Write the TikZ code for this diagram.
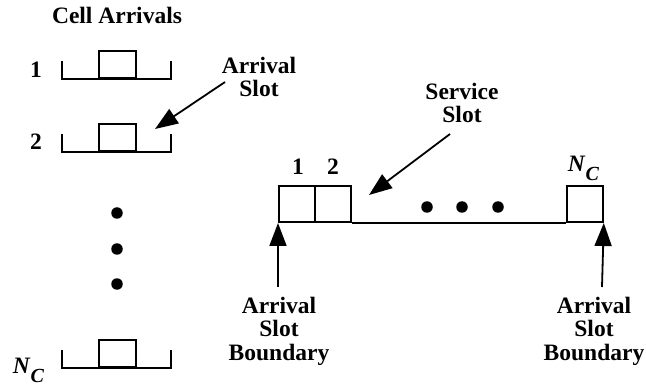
\documentclass[tikz,border=0pt]{standalone}
\usepackage{fontspec}
\setmainfont{Liberation Serif}
\usetikzlibrary{arrows.meta}
\newcommand\ncsym{\textbf{\textit{N}\raisebox{-9pt}{\fontsize{20}{20}\selectfont\textit{C}}}}
\begin{document}
\begin{tikzpicture}[x=1pt,y=-1pt,line width=1.8pt,
  lbl/.style={font=\fontsize{23.5}{23.5}\selectfont\bfseries,inner sep=0pt,align=center},
  slotbox/.style={draw,minimum width=36pt,minimum height=36pt,inner sep=0pt,anchor=south west},
  cellbox/.style={draw,minimum width=37pt,minimum height=27pt,inner sep=0pt,anchor=south west},
  bigarrow/.style={-{Triangle[length=23pt,width=17pt]},line width=1.8pt},
  dot/.style={circle,fill,inner sep=0pt,minimum size=11.5pt}]
\useasboundingbox (0,0) rectangle (646,385);

% ---- cell arrival trains ----
\node[lbl,anchor=base] (title) at (117,24) {Cell Arrivals};
\foreach \n/\y in {one/79,two/152,last/368}{
  \draw (62,\y-18) -- (62,\y) -- (171,\y) -- (171,\y-18);
  \node[cellbox] (cell\n) at (98,\y) {};
}
\node[lbl,anchor=base] (lone) at (36,78) {1};
\node[lbl,anchor=base] (ltwo) at (36,150) {2};
\node[lbl,anchor=base west] (llast) at (12,373) {\ncsym};
\node[dot] (vd1) at (117,213) {};
\node[dot] (vd2) at (117,249) {};
\node[dot] (vd3) at (117,284) {};

% ---- arrival slot pointer (base anchor sits on the last line) ----
\node[lbl,anchor=base] (arrslot) at (259,97) {Arrival\\Slot};
\coordinate (arrtail) at (225,82);
\coordinate (arrtip) at (155,129);
\draw[bigarrow] (arrtail) -- (arrtip);

% ---- service slots ----
\node[slotbox] (s1) at (278,223) {};
\node[slotbox] (s2) at (314,223) {};
\node[slotbox] (sN) at (566,223) {};
\draw (s2.south east) -- (sN.south west);
\node[lbl,anchor=base] (n1) at (298,175) {1};
\node[lbl,anchor=base] (n2) at (333,175) {2};
\node[lbl,anchor=base west] (nN) at (567,172) {\ncsym};
\node[dot] (hd1) at (427,207) {};
\node[dot] (hd2) at (462,207) {};
\node[dot] (hd3) at (498,207) {};

\node[lbl,anchor=base] (servslot) at (462,123) {Service\\Slot};
\coordinate (servtail) at (450,134);
\coordinate (servtip) at (369,195);
\draw[bigarrow] (servtail) -- (servtip);

% ---- arrival slot boundaries ----
\node[lbl,anchor=base] (bleft) at (279,360) {Arrival\\Slot\\Boundary};
\node[lbl,anchor=base] (bright) at (594,360) {Arrival\\Slot\\Boundary};
\coordinate (blefttail) at (278,287);
\coordinate (brighttail) at (602,287);
\draw[bigarrow] (blefttail) -- (s1.south west);
\draw[bigarrow] (brighttail) -- (sN.south east);
\end{tikzpicture}
\end{document}
